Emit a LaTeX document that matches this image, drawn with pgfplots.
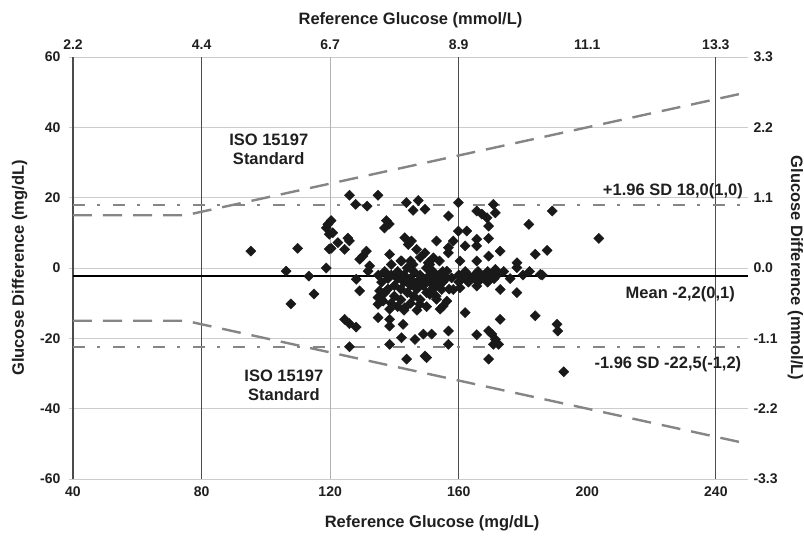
\documentclass[border=0pt]{standalone}
\usepackage{pgfplots}
\pgfplotsset{compat=1.18}
\usepackage{fontspec}
\setmainfont{Liberation Sans}
\definecolor{txt}{gray}{0.12}
\definecolor{gridc}{gray}{0.80}
\definecolor{dashc}{gray}{0.52}
\definecolor{darkl}{gray}{0.30}
\newcommand\tfont{\fontsize{14}{16}\selectfont\bfseries}
\newcommand\lfont{\fontsize{16.5}{19}\selectfont\bfseries}
\pgfplotstableread{
x y
95.3 4.8
109.9 5.6
106.3 -0.9
113.4 -2.3
118.8 0.0
107.8 -10.2
115.0 -7.4
118.8 11.4
119.3 12.4
120.3 13.5
119.7 9.6
120.8 10.0
119.7 5.4
120.3 5.6
122.4 7.2
124.5 5.3
126.0 7.7
125.5 8.5
126.0 20.7
134.9 20.7
127.9 18.1
131.5 17.6
143.7 18.6
147.4 19.2
145.8 16.4
149.5 16.7
137.5 13.5
138.4 12.5
136.9 11.4
143.2 8.6
145.3 7.7
144.3 6.7
146.9 5.3
149.5 4.3
131.3 4.8
130.2 3.4
129.2 2.5
138.5 3.9
142.2 2.0
145.8 1.0
132.3 0.6
131.8 -0.9
128.1 -3.2
129.2 -6.5
135.4 -6.5
134.9 -8.4
136.5 -9.4
134.9 -10.3
138.5 -11.7
143.2 -11.3
147.9 -10.3
134.9 -14.1
138.5 -14.6
138.5 -16.5
142.7 -16.0
124.5 -14.6
126.0 -15.8
128.1 -16.8
142.2 -19.8
146.4 -20.3
149.0 -18.8
138.5 -21.7
126.0 -22.4
143.8 -25.9
149.5 -25.0
159.9 18.6
170.8 18.1
171.4 15.7
165.6 16.2
167.2 15.3
168.8 14.3
156.8 14.8
169.3 11.9
181.8 12.4
159.9 10.5
162.5 10.5
153.1 7.7
158.3 7.7
165.6 8.2
165.6 6.3
169.3 8.4
162.0 6.3
156.8 5.8
156.8 4.3
172.9 4.8
169.3 3.4
165.6 2.0
160.4 2.0
178.1 1.5
178.1 0.1
152.1 2.9
150.5 1.5
171.4 -0.4
156.3 -0.9
157.8 -2.8
165.6 -5.1
160.4 -5.6
158.3 -6.1
154.7 -6.1
152.1 -3.7
152.1 -5.6
151.0 -7.5
172.9 -6.1
178.1 -7.0
153.1 -8.9
156.3 -9.4
154.2 -11.7
155.2 -10.8
162.0 -12.7
172.9 -14.6
156.8 -17.9
156.8 -21.7
151.6 -18.8
165.6 -19.0
169.3 -17.9
170.3 -18.8
171.4 -20.3
172.4 -21.7
170.8 -21.7
169.3 -25.9
150.0 -25.5
189.1 16.2
203.6 8.4
183.8 3.9
187.5 5.0
185.4 -1.8
183.8 -13.6
190.6 -16.0
190.8 -17.9
192.7 -29.5
135 -2
136 -4
137 -1
138 -3
138 -6
139 -2
140 -5
140 -8
141 -1
141 -3
142 -6
142 -9
143 -2
143 -4
144 -7
144 0
145 -3
145 -5
146 -1
146 -8
147 -4
147 -6
148 -2
148 -9
149 -3
149 -5
150 0
150 -7
151 -2
151 -4
152 -1
152 -6
153 -3
153 -8
154 -2
154 -5
155 -1
155 -4
156 -3
157 -6
136 -9
137 -7
139 -10
141 -11
143 -12
145 -10
147 -12
150 -11
139 1
142 2
145 2
148 3
151 1
154 2
160 -2
161 -3
162 -1
163 -2
164 -3
165 -2
166 -1
167 -3
168 -2
169 -1
170 -2
171 -3
172 -2
174 -1
160 -4
163 -4
166 -4
169 -4
176 -3
180 -2
182 -1
186 -2
}\pts
\begin{document}
\begin{tikzpicture}
\begin{axis}[
  scale only axis, width=675pt, height=422pt,
  xmin=40, xmax=250, ymin=-60, ymax=60,
  axis x line*=bottom, axis y line*=left,
  x axis line style={draw=none},
  y axis line style={darkl, line width=1.2pt},
  xtick={40,80,120,160,200,240},
  xticklabels={40,80,120,160,200,240},
  ytick={-60,-40,-20,0,20,40,60},
  yticklabels={-60,-40,-20,0,20,40,60},
  xtick style={draw=none},
  ytick style={gridc, line width=0.8pt},
  tick align=outside, major tick length=4pt,
  ymajorgrids, grid style={gridc, line width=0.8pt},
  ticklabel style={font=\tfont, text=txt},
  yticklabel style={xshift=-5pt},
  xlabel={Reference Glucose (mg/dL)},
  ylabel={Glucose Difference (mg/dL)},
  label style={font=\lfont, text=txt},
  xlabel style={at={(axis description cs:0.532,-0.105)}, anchor=center},
  ylabel style={at={(axis description cs:-0.079,0.5)}, anchor=center, rotate=0},
]
\coordinate (SW) at (rel axis cs:0,0);
\coordinate (NE) at (rel axis cs:1,1);
\addplot[darkl, line width=1.2pt] coordinates {(80,-60) (80,60)};
\addplot[gray!60, line width=1.0pt] coordinates {(120,-60) (120,60)};
\addplot[darkl, line width=1.2pt] coordinates {(160,-60) (160,60)};
\addplot[darkl, line width=1.2pt] coordinates {(240,-60) (240,60)};
\addplot[dashc, line width=2.4pt, dash pattern=on 12pt off 12pt on 3pt off 13pt] coordinates {(40,18.0) (250,18.0)};
\addplot[dashc, line width=2.4pt, dash pattern=on 12pt off 12pt on 3pt off 13pt] coordinates {(40,-22.5) (250,-22.5)};
\addplot[dashc, line width=2.4pt, dash pattern=on 19pt off 11pt] coordinates {(40,15) (75,15) (250,50)};
\addplot[dashc, line width=2.4pt, dash pattern=on 19pt off 11pt] coordinates {(40,-15) (75,-15) (250,-50)};
\addplot[black, line width=1.8pt] coordinates {(40,-2.2) (250,-2.2)};
\addplot[only marks, mark=square*, mark size=3.6pt, mark options={rotate=45, fill=black!90, draw=black!90}] table[x=x, y=y] {\pts};
\node[font=\lfont, text=txt, align=center] at (axis cs:100.9,33.8) {ISO 15197\\Standard};
\node[font=\lfont, text=txt, align=center] at (axis cs:105.6,-33.5) {ISO 15197\\Standard};
\node[font=\lfont, text=txt, anchor=east] at (axis cs:249.5,21.9) {+1.96 SD 18,0(1,0)};
\node[font=\lfont, text=txt, anchor=east] at (axis cs:247,-7.4) {Mean -2,2(0,1)};
\node[font=\lfont, text=txt, anchor=east] at (axis cs:249,-27.3) {-1.96 SD -22,5(-1,2)};
\end{axis}
\begin{axis}[
  scale only axis, width=675pt, height=422pt,
  xmin=40, xmax=250, ymin=-60, ymax=60,
  axis x line*=top, axis y line*=right,
  axis line style={draw=none},
  tick style={draw=none},
  xtick={40,80,120,160,200,240},
  xticklabels={2.2,4.4,6.7,8.9,11.1,13.3},
  ytick={-60,-40,-20,0,20,40,60},
  yticklabels={-3.3,-2.2,-1.1,0.0,1.1,2.2,3.3},
  ticklabel style={font=\tfont, text=txt},
  xticklabel style={yshift=4pt},
  yticklabel style={xshift=2pt},
  xlabel={Reference Glucose (mmol/L)},
  ylabel={Glucose Difference (mmol/L)},
  label style={font=\lfont, text=txt},
  xlabel style={at={(axis description cs:0.5,1.088)}, anchor=center},
  ylabel style={at={(axis description cs:1.07,0.5)}, anchor=center, rotate=180},
]
\end{axis}
\pgfresetboundingbox
\useasboundingbox ([shift={(-73pt,-58pt)}]SW) rectangle ([shift={(56pt,57pt)}]NE);
\end{tikzpicture}
\end{document}
